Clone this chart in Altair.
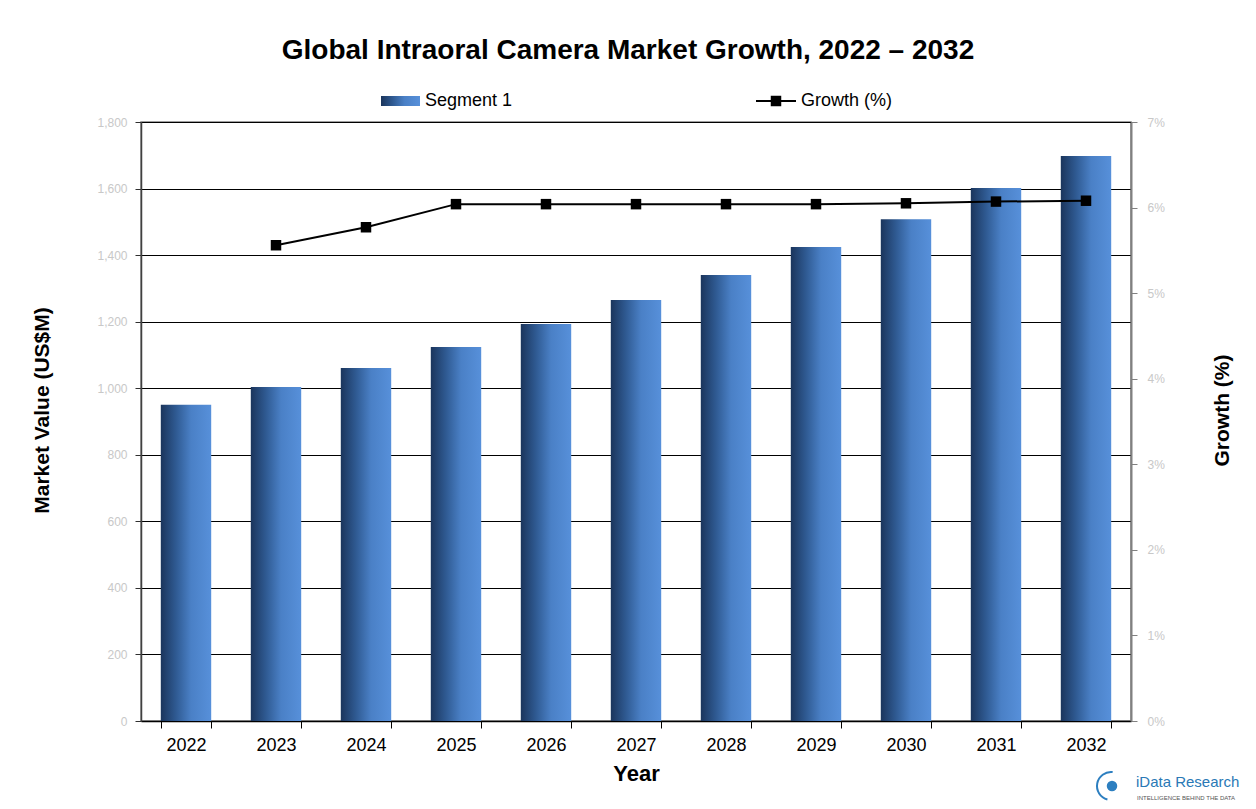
import altair as alt
import pandas as pd

years = ["2022", "2023", "2024", "2025", "2026", "2027", "2028", "2029", "2030", "2031", "2032"]
market_value = [950, 1004, 1061, 1124, 1193, 1265, 1340, 1424, 1508, 1602, 1698]
growth = [None, 5.56, 5.77, 6.04, 6.04, 6.04, 6.04, 6.04, 6.05, 6.07, 6.08]

left_ticks = [0, 200, 400, 600, 800, 1000, 1200, 1400, 1600, 1800]
right_ticks = [0, 1, 2, 3, 4, 5, 6, 7]

FONT = "Liberation Sans"
W, H = 990, 599

df = pd.DataFrame({"Year": years, "Value": market_value, "Growth": growth})

grad = alt.Gradient(
    gradient="linear", x1=0, x2=1, y1=0, y2=0,
    stops=[
        alt.GradientStop(color="#1b355c", offset=0),
        alt.GradientStop(color="#2f5a92", offset=0.3),
        alt.GradientStop(color="#4a80c6", offset=0.6),
        alt.GradientStop(color="#5790da", offset=1),
    ],
)

xenc = alt.X(
    "Year:N", sort=years,
    scale=alt.Scale(paddingInner=0.44, paddingOuter=0.22),
    axis=alt.Axis(
        title="Year", labelAngle=0, labelFontSize=18, labelColor="#000000", labelPadding=8,
        domainColor="#000000", domainWidth=1.5, tickColor="#000000", tickBand="extent",
        tickSize=7, titleFontSize=22, titleFontWeight="bold", titleX=495, titleY=52,
        titleBaseline="middle", titleAlign="center",
    ),
)

bars = alt.Chart(df).mark_bar(color=grad).encode(
    x=xenc,
    y=alt.Y(
        "Value:Q",
        scale=alt.Scale(domain=[0, 1800], nice=False),
        axis=alt.Axis(
            title="Market Value (US$M)", values=left_ticks, format=",d",
            grid=True, gridColor="#000000", gridWidth=1,
            labelColor="#c8c8c8", labelFontSize=12, labelPadding=8,
            domainColor="#404040", domainWidth=1.5, tickColor="#303030", tickSize=6,
            titleFontSize=21, titleFontWeight="bold", titleAngle=-90,
            titleX=-99, titleY=288, titleAlign="center", titleBaseline="middle",
        ),
    ),
)

line = alt.Chart(df).mark_line(color="#000000", strokeWidth=2).encode(
    x=alt.X("Year:N", sort=years),
    y=alt.Y(
        "Growth:Q",
        scale=alt.Scale(domain=[0, 7], nice=False),
        axis=alt.Axis(
            orient="right", title="Growth (%)", values=right_ticks,
            labelExpr="datum.value + '%'", grid=False,
            labelColor="#c8c8c8", labelFontSize=12, labelPadding=10,
            domainColor="#808080", domainWidth=2, tickColor="#808080", tickSize=6,
            titleFontSize=21, titleFontWeight="bold", titleAngle=-90,
            titleX=91, titleY=288, titleAlign="center", titleBaseline="middle",
        ),
    ),
)
points = alt.Chart(df).mark_square(color="#000000", size=110, opacity=1).encode(
    x=alt.X("Year:N", sort=years),
    y=alt.Y("Growth:Q", scale=alt.Scale(domain=[0, 7], nice=False)),
)

growth_layer = alt.layer(line, points)

# legend
leg = pd.DataFrame({"k": [0]})
leg_rect = alt.Chart(leg).mark_rect(color=grad).encode(
    x=alt.value(240), x2=alt.value(279), y=alt.value(-26), y2=alt.value(-16)
)
leg_text1 = alt.Chart(leg).mark_text(
    text="Segment 1", align="left", baseline="middle", fontSize=18, font=FONT, color="#000000"
).encode(x=alt.value(284), y=alt.value(-21))
leg_line = alt.Chart(leg).mark_rule(color="#000000", strokeWidth=2).encode(
    x=alt.value(615), x2=alt.value(655), y=alt.value(-21)
)
leg_sq = alt.Chart(leg).mark_square(color="#000000", size=110, opacity=1).encode(
    x=alt.value(635), y=alt.value(-21)
)
leg_text2 = alt.Chart(leg).mark_text(
    text="Growth (%)", align="left", baseline="middle", fontSize=18, font=FONT, color="#000000"
).encode(x=alt.value(660), y=alt.value(-21))

# logo
logo_circle = alt.Chart(leg).mark_arc(
    color="#2d7fc0", radius=15, radius2=13, theta=3.4, theta2=6.4
).encode(x=alt.value(970), y=alt.value(664))
logo_globe = alt.Chart(leg).mark_circle(color="#2d7fc0", size=110, opacity=1).encode(
    x=alt.value(971), y=alt.value(664)
)
logo_text = alt.Chart(leg).mark_text(
    text="iData Research", align="left", baseline="middle", fontSize=15, font=FONT, color="#2a79b6"
).encode(x=alt.value(995), y=alt.value(660))
logo_sub = alt.Chart(leg).mark_text(
    text="INTELLIGENCE BEHIND THE DATA", align="left", baseline="middle", fontSize=6,
    font=FONT, color="#555555"
).encode(x=alt.value(996), y=alt.value(676))

main = alt.layer(bars, growth_layer).resolve_scale(y="independent")

extras = alt.layer(leg_rect, leg_text1, leg_line, leg_sq, leg_text2,
                   logo_circle, logo_globe, logo_text, logo_sub)

chart = alt.layer(main, extras).resolve_scale(y="independent")

chart = chart.properties(
    width=W, height=H,
    title=alt.TitleParams(
        text="Global Intraoral Camera Market Growth, 2022 – 2032",
        fontSize=28, font=FONT, fontWeight="bold", color="#000000",
        anchor="middle", offset=27, dx=-8,
    ),
    autosize=alt.AutoSizeParams(type="none"),
    padding={"left": 133, "top": 114, "right": 117, "bottom": 80},
).configure(font=FONT).configure_view(stroke="#808080", strokeWidth=1.5).configure_axis(
    labelFont=FONT, titleFont=FONT
)

chart.save("out.html", embed_options={"renderer": "svg", "actions": False})
